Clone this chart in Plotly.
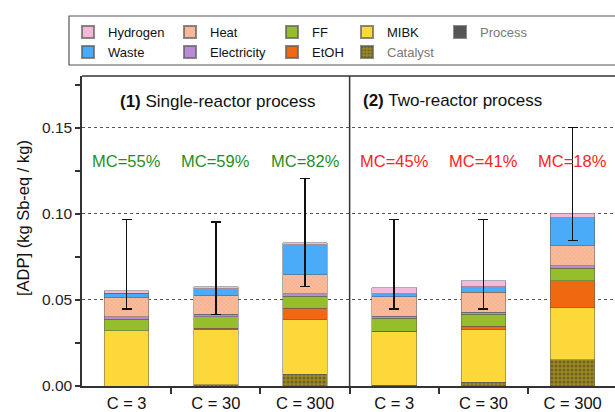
import plotly.graph_objects as go

# ---------------- data ----------------
x_pos = [0, 1, 2, 3, 4, 5]
x_labels = ["C = 3", "C = 30", "C = 300", "C = 3", "C = 30", "C = 300"]

catalyst = [0.0000, 0.0008, 0.0069, 0.0005, 0.0023, 0.0151]
mibk = [0.0320, 0.0318, 0.0317, 0.0313, 0.0303, 0.0303]
etoh = [0.0000, 0.0010, 0.0066, 0.0000, 0.0020, 0.0158]
ff = [0.0068, 0.0067, 0.0069, 0.0074, 0.0071, 0.0073]
electricity = [0.0013, 0.0014, 0.0016, 0.0012, 0.0012, 0.0014]
heat = [0.0113, 0.0108, 0.0110, 0.0113, 0.0114, 0.0114]
waste = [0.0026, 0.0041, 0.0174, 0.0020, 0.0034, 0.0164]
hydrogen = [0.0012, 0.0011, 0.0011, 0.0033, 0.0033, 0.0027]
process = [0, 0, 0, 0, 0, 0]

err_high = [0.0967, 0.0952, 0.1205, 0.0967, 0.0967, 0.1500]
err_low = [0.0446, 0.0415, 0.0577, 0.0446, 0.0446, 0.0844]

mc_labels = ["MC=55%", "MC=59%", "MC=82%", "MC=45%", "MC=41%", "MC=18%"]
mc_colors = ["#1f8f1f", "#1f8f1f", "#1f8f1f", "#ff2222", "#ff2222", "#ff2222"]
panel_titles = ["<b>(1)</b> Single-reactor process", "<b>(2)</b> Two-reactor process"]

FONT = "Liberation Sans, Arial, sans-serif"
W, H = 615, 412
ML, MT, MB = 82, 76, 26
PW, PH = W - ML, H - MT - MB


def px_x(px):
    return (px - ML) / PW


def px_y(py):
    return (H - MB - py) / PH


totals = [sum(v) for v in zip(catalyst, mibk, etoh, ff, electricity, heat, waste, hydrogen, process)]
err_plus = [h - t for h, t in zip(err_high, totals)]
err_minus = [t - l for l, t in zip(err_low, totals)]

outline = dict(color="rgba(90,90,90,0.7)", width=0.7)

# name, values, color, pattern, legend col/row, text color
series = [
    ("Process", process, "#555555", None, 4, 0, "#777777"),
    ("Catalyst", catalyst, "#8c7a22", dict(shape=".", fgcolor="#4a3e08", bgcolor="#9a8a2a", size=4, solidity=0.45), 3, 1, "#777777"),
    ("MIBK", mibk, "#fdd83a", None, 3, 0, "#111111"),
    ("EtOH", etoh, "#f0680f", None, 2, 1, "#111111"),
    ("FF", ff, "#95bd2c", None, 2, 0, "#111111"),
    ("Electricity", electricity, "#b98bd6", None, 1, 1, "#111111"),
    ("Heat", heat, "#f7b28e", dict(shape="x", fgcolor="#eb9a74", bgcolor="#f8bc9c", size=3, solidity=0.3), 1, 0, "#111111"),
    ("Waste", waste, "#4aabf8", None, 0, 1, "#111111"),
    ("Hydrogen", hydrogen, "#f4b8d8", None, 0, 0, "#111111"),
]

swatch_left = [83, 185, 287, 362, 455]
row_y = [32, 52]

fig = go.Figure()
layout_legends = {}
for i, (name, vals, col, pat, lc, lr, tcol) in enumerate(series):
    lname = "legend" if i == 0 else f"legend{i+1}"
    marker = dict(color=col, line=outline)
    if pat is not None:
        marker["pattern"] = pat
    kw = {}
    if name == "Hydrogen":
        kw["error_y"] = dict(type="data", symmetric=False, array=err_plus, arrayminus=err_minus,
                             color="#111111", thickness=1.5, width=5)
    fig.add_trace(go.Bar(x=x_pos, y=vals, name=name, marker=marker, width=0.5,
                         legend=lname, hoverinfo="skip", **kw))
    lx = swatch_left[lc] - 1 - 14
    ly = row_y[lr] - 15
    layout_legends[lname] = dict(
        x=lx / W, y=1 - ly / H, xref="container", yref="container",
        xanchor="left", yanchor="top", bgcolor="rgba(0,0,0,0)", borderwidth=0,
        font=dict(family=FONT, size=13, color=tcol), tracegroupgap=0, itemsizing="constant",
    )

annotations = []
for i, (lab, c) in enumerate(zip(mc_labels, mc_colors)):
    annotations.append(dict(x=x_pos[i], y=0.1305, xref="x", yref="y", text=lab, showarrow=False,
                            xanchor="center", yanchor="middle",
                            font=dict(family=FONT, size=16.5, color=c)))
annotations.append(dict(x=px_x(218), y=px_y(101), xref="paper", yref="paper", xanchor="center", yanchor="middle",
                        text=panel_titles[0], showarrow=False, font=dict(family=FONT, size=17, color="#111")))
annotations.append(dict(x=px_x(452), y=px_y(100), xref="paper", yref="paper", xanchor="center", yanchor="middle",
                        text=panel_titles[1], showarrow=False, font=dict(family=FONT, size=17, color="#111")))
annotations.append(dict(x=px_x(23), y=px_y(218), xref="paper", yref="paper", xanchor="center", yanchor="middle",
                        text="[ADP] (kg Sb-eq / kg)", textangle=-90, showarrow=False,
                        font=dict(family=FONT, size=16.5, color="#111")))

shapes = [
    # legend box
    dict(type="rect", xref="paper", yref="paper", x0=px_x(69), x1=px_x(640),
         y0=px_y(65), y1=px_y(16), line=dict(color="#555", width=1.2), fillcolor="rgba(0,0,0,0)"),
    # top frame line
    dict(type="line", xref="paper", yref="paper", x0=0, x1=1, y0=1, y1=1, line=dict(color="#333", width=1.5)),
    # panel separator
    dict(type="line", xref="x", yref="paper", x0=2.5, x1=2.5, y0=0, y1=1, line=dict(color="#333", width=1.5)),
]

fig.update_layout(
    width=W, height=H, margin=dict(l=ML, r=0, t=MT, b=MB, autoexpand=False),
    paper_bgcolor="white", plot_bgcolor="white",
    barmode="stack", showlegend=True,
    font=dict(family=FONT, color="#222"),
    annotations=annotations, shapes=shapes,
    **layout_legends,
)
fig.update_xaxes(range=[-0.5, 5.475], tickvals=x_pos, ticktext=x_labels, ticks="",
                 showline=True, linecolor="#333", linewidth=1.5, showgrid=False, zeroline=False,
                 automargin=False, ticklabelstandoff=1,
                 tickfont=dict(family=FONT, size=16.5, color="#111"),
                 minor=dict(tickmode="array", tickvals=[0.5, 1.5, 2.5, 3.5, 4.5], ticks="outside",
                            ticklen=6, tickcolor="#333", tickwidth=1.5, showgrid=False))
fig.update_yaxes(range=[0, 0.18], tickvals=[0, 0.05, 0.10, 0.15], tickformat=".2f", ticks="outside",
                 ticklen=5, tickcolor="#333", tickwidth=1.5, automargin=False,
                 showline=True, linecolor="#333", linewidth=1.5, zeroline=False,
                 showgrid=True, gridcolor="#555", griddash="dot", gridwidth=1,
                 tickfont=dict(family=FONT, size=15.5, color="#222"),
                 minor=dict(tickmode="array", tickvals=[0.025, 0.075, 0.125, 0.175], ticks="outside",
                            ticklen=5, tickcolor="#333", tickwidth=1.5, showgrid=False))

fig.write_html("out.html")
